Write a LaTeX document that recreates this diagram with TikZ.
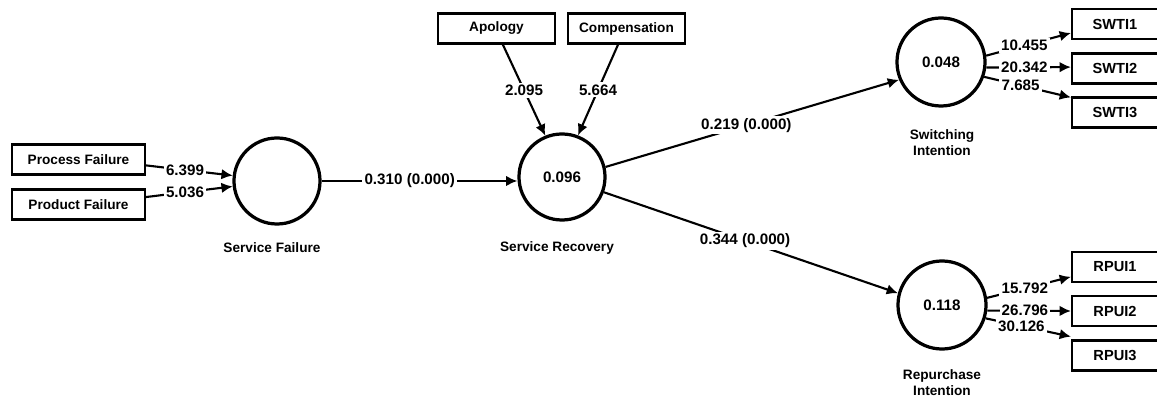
\documentclass[tikz,border=0pt]{standalone}
\usepackage{fontspec}
\setmainfont{Liberation Sans}
\usetikzlibrary{arrows.meta}

\begin{document}
\begin{tikzpicture}[x=0.025cm,y=-0.025cm]
\tikzstyle{item}=[
  rectangle,
  draw,
  line width=1.5pt,
  minimum height=0.75cm,
  inner sep=0pt,
  font=\fontsize{9.7}{11}\selectfont\bfseries ]
\tikzstyle{latent}=[
  circle,
  draw,
  line width=2.3pt,
  minimum size=2.15cm,
  inner sep=0pt,
  font=\fontsize{10.8}{12}\selectfont\bfseries ]
\tikzstyle{title}=[align=center, font=\fontsize{9.7}{11.5}\selectfont\bfseries]
\tikzstyle{est}=[fill=white, inner sep=1.5pt, font=\fontsize{10.8}{12}\selectfont\bfseries]
\tikzstyle{path}=[line width=1.5pt, -{Latex[length=8pt,width=7.5pt]}]
\useasboundingbox (0,0) rectangle (1157,398);

\node[item, minimum width=3.325cm] (pf) at (78.5,159.5) {Process Failure};
\node[item, minimum width=3.325cm] (pd) at (78.5,204.5) {Product Failure};
\node[item, minimum width=2.925cm] (ap) at (496.5,28.5) {Apology};
\node[item, minimum width=2.925cm] (cp) at (626.5,28.5) {Compensation};
\node[item, minimum width=2.15cm, font=\fontsize{10.4}{12}\selectfont\bfseries] (s1) at (1115,24) {SWTI1};
\node[item, minimum width=2.15cm, font=\fontsize{10.4}{12}\selectfont\bfseries] (s2) at (1115,68.5) {SWTI2};
\node[item, minimum width=2.15cm, font=\fontsize{10.4}{12}\selectfont\bfseries] (s3) at (1115,112.5) {SWTI3};
\node[item, minimum width=2.15cm, font=\fontsize{10.4}{12}\selectfont\bfseries] (r1) at (1115,267) {RPUI1};
\node[item, minimum width=2.15cm, font=\fontsize{10.4}{12}\selectfont\bfseries] (r2) at (1115,311) {RPUI2};
\node[item, minimum width=2.15cm, font=\fontsize{10.4}{12}\selectfont\bfseries] (r3) at (1115,355.5) {RPUI3};

\node[latent] (sf) at (277,181) {};
\node[latent] (sr) at (562,177) {0.096};
\node[latent, minimum size=2.2cm] (si) at (941,62) {0.048};
\node[latent, minimum size=2.2cm] (ri) at (942,305) {0.118};

\node[title] (sflab) at (272,248) {Service Failure};
\node[title] (srlab) at (557,248) {Service Recovery};
\node[title] (silab) at (942,143) {Switching\\Intention};
\node[title] (rilab) at (942,383) {Repurchase\\Intention};

\draw[path] ([yshift=-4.2pt]pf.east) -- node[est, pos=0.45] (e1) {6.399} (sf.173);
\draw[path] ([yshift=5.3pt]pd.east) -- node[est, pos=0.45] (e2) {5.036} (sf.187);
\draw[path] (sf.east) -- node[est, pos=0.45] (e3) {0.310 (0.000)} (sf.east -| sr.west);
\draw[path] ([xshift=4.5pt]ap.south) -- node[est] (e4) {2.095} (sr.112);
\draw[path] ([xshift=-6pt]cp.south) -- node[est] (e5) {5.664} (sr.69);
\draw[path] (sr.13) -- node[est, pos=0.48] (e6) {0.219 (0.000)} (si.203);
\draw[path] (sr.340) -- node[est, pos=0.48] (e7) {0.344 (0.000)} (ri.165);

\draw[path] (si.8) -- node[est, pos=0.45] (e8) {10.455} ([yshift=-6.4pt]s1.west);
\draw[path] (si.353) -- node[est, pos=0.45] (e9) {20.342} ([yshift=1pt]s2.west);
\draw[path] (si.341) -- node[est, pos=0.42] (e10) {7.685} ([yshift=-0.7pt]s3.north west);
\draw[path] (ri.9) -- node[est, pos=0.45] (e11) {15.792} ([yshift=-7pt]r1.west);
\draw[path] (ri.353) -- node[est, pos=0.45] (e12) {26.796} (r2.west);
\draw[path] (ri.343) -- node[est, pos=0.42] (e13) {30.126} ([yshift=2pt]r3.north west);
\end{tikzpicture}
\end{document}
